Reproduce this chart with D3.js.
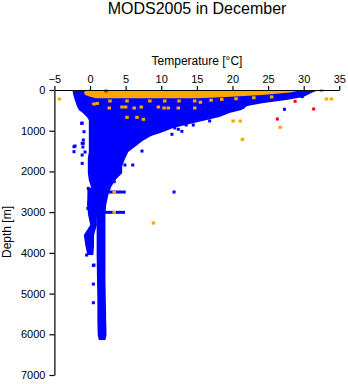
<!DOCTYPE html>
<html><head><meta charset="utf-8">
<script src="https://cdn.jsdelivr.net/npm/d3@7"></script>
<style>body{margin:0;background:#fff}svg{display:block}text{font-family:"Liberation Sans",Arial,sans-serif;fill:#000}</style>
</head><body>
<script>
const title = "MODS2005 in December";
const xTitle = "Temperature [°C]";
const yTitle = "Depth [m]";
const xTicks = [-5, 0, 5, 10, 15, 20, 25, 30, 35];
const yTicks = [0, 1000, 2000, 3000, 4000, 5000, 6000, 7000];

// dense blue cloud envelope: depth, min temp, max temp
const blueDepth = [0,74,172,246,319,393,491,565,663,737,835,934,1032,1130,1253,1376,1523,1671,1867,2039,2211,2383,2580,2826,3071,3317,3563,4054,4668,5160,5651,6020,6143];
const blueTmin  = [-2.25,-2.25,-2.1,-1.97,-1.83,-1.69,-1.4,-0.84,-0.28,0,0,0,0,0,0,0,0,-0.14,-0.14,-0.14,0,0.3,0.9,1.0,1.0,1.1,1.1,1.1,1.15,1.2,1.2,1.25,1.4];
const blueTmax  = [31.9,30.9,29.8,27.4,24.2,21.9,21.1,19.4,18.0,16.2,13.8,11.5,10.1,8.4,7.2,6.3,5.2,4.8,4.35,4.35,3.4,2.8,2.4,2.1,2.0,2.0,2.0,2.0,2.0,2.05,2.1,2.15,2.0];
// secondary cold branch
const branchDepth = [2400,2580,2826,3071,3317,3563,3808,4054];
const branchTmin  = [-0.2,-0.2,-0.25,-0.1,0.2,-0.7,-0.5,-0.2];
const branchTmax  = [0.7,0.7,0.7,0.7,0.8,0.4,0.4,0.3];
// surface orange band
const orangeDepth = [0,60,120,170,200];
const orangeTmin  = [-0.28,-0.7,-0.5,0.3,1.0];
const orangeTmax  = [29.5,28.0,24.0,19.0,15.0];

// scattered points [temperature, depth]
const bluePts = [[27.3,474],[29.8,164],[13.5,860],[12.4,966],[11.5,1088],[12.9,1015],[11.9,934],[11.8,2506],[6.0,1843],[4.9,1843],[3.4,2252],[7.3,1500],
  [-2.25,1392],[-2.25,1515],[-1.1,1802],[-0.94,1228],[-0.94,1310],[-1.17,820],[-0.24,2416],[-0.3,2907],[-0.47,4054],[0.56,4300],[0.47,4308],[0.47,4767],[0.47,5225],
  [-0.84,1024],[-1.1,1310],[-1.1,811],[-2.1,1376],[-1.0,1400],[-0.7,1523],[-1.1,1597],[21.5,420],[22.5,300],[16.8,760],[14.5,860]];
// horizontal runs of blue points: [depth, tStart, tEnd]
const blueRuns = [[2506,0,4.8],[3005,0,4.7]];
const orangePts = [[-4.3,221],[33.2,221],[33.9,221],[32.5,17],[20.1,762],[21.1,762],[21.4,1212],[26.7,917],[8.9,3268],[3.4,2515],[3.4,3005],[5.2,672],[6.6,672],[7.5,720],
  [0.56,344],[2.7,442],[4.5,418],[6.2,442],[7.2,418],[9.6,418],[10.4,442],[12.4,442],[12.5,270],[14.7,270],[14.7,442],[2.8,270],[5.2,270],[8.4,270],[10.5,270],[11.0,442],[5.0,418],[15.5,300],[1.0,330],
  [17.0,250],[18.5,230],[20.5,215],[23.0,190],[25.5,170]];
const redPts = [[2.25,25],[28.8,278],[31.4,467],[26.3,713]];

const W = 348, H = 384;
const svg = d3.select("body").append("svg").attr("width", W).attr("height", H);
const x = d3.scaleLinear().domain([-5, 35]).range([54.4, 339.3]);
const y = d3.scaleLinear().domain([0, 7000]).range([90, 375]);

const BLUE = "#0000ff", ORANGE = "#ffa500", RED = "#ff0000";

function band(depth, tmin, tmax, color) {
  const rows = depth.map((d, i) => ({d, a: tmin[i], b: tmax[i]}));
  svg.append("path").datum(rows)
    .attr("d", d3.area().y(r => y(r.d)).x0(r => x(r.a) - 1.2).x1(r => x(r.b) + 1.2))
    .attr("fill", color);
}
band(blueDepth, blueTmin, blueTmax, BLUE);
band(branchDepth, branchTmin, branchTmax, BLUE);

svg.selectAll(".run").data(blueRuns).join("rect")
  .attr("x", r => x(r[1]) - 1.5).attr("y", r => y(r[0]) - 1.5)
  .attr("width", r => x(r[2]) - x(r[1]) + 3).attr("height", 3).attr("fill", BLUE);

function pts(data, color, w, h) {
  svg.append("g").selectAll("rect").data(data).join("rect")
    .attr("x", p => x(p[0]) - w / 2).attr("y", p => y(p[1]) - h / 2)
    .attr("width", w).attr("height", h).attr("fill", color);
}
pts(bluePts, BLUE, 3, 3);
band(orangeDepth, orangeTmin, orangeTmax, ORANGE);
pts(orangePts, ORANGE, 3.5, 3);
pts(redPts, RED, 3, 3);

// axes
const xAxis = d3.axisTop(x).tickValues(xTicks).tickSize(4).tickPadding(3).tickSizeOuter(0);
const gx = svg.append("g").attr("transform", "translate(0,90)").call(xAxis);
gx.selectAll("text").attr("font-size", 11).attr("font-family", "Liberation Sans, Arial, sans-serif");
const yAxis = d3.axisLeft(y).tickValues(yTicks).tickFormat(d3.format("d")).tickSize(5).tickPadding(4).tickSizeOuter(0);
const gy = svg.append("g").attr("transform", "translate(54.4,0)").call(yAxis);
gy.selectAll("text").attr("font-size", 11).attr("font-family", "Liberation Sans, Arial, sans-serif");
svg.selectAll(".domain, .tick line").attr("stroke", "#000").attr("stroke-width", 1.2);

svg.append("text").attr("x", 197).attr("y", 14).attr("text-anchor", "middle").attr("font-size", 16).text(title);
svg.append("text").attr("x", 197).attr("y", 65).attr("text-anchor", "middle").attr("font-size", 12).text(xTitle);
svg.append("text").attr("transform", "translate(11,232) rotate(-90)").attr("text-anchor", "middle").attr("font-size", 12).text(yTitle);
</script>
</body></html>
